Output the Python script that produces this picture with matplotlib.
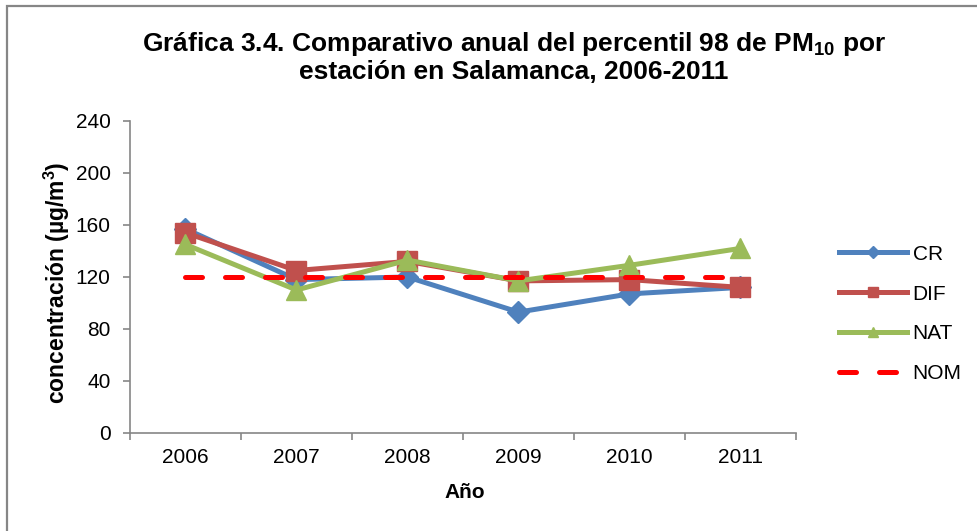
import matplotlib
matplotlib.use("Agg")
import matplotlib.pyplot as plt
from matplotlib.lines import Line2D
from matplotlib.patches import Rectangle

plt.rcParams['font.family'] = ['Liberation Sans', 'DejaVu Sans']
plt.rcParams['mathtext.fontset'] = 'custom'
plt.rcParams['mathtext.rm'] = 'Liberation Sans'
plt.rcParams['mathtext.bf'] = 'Liberation Sans:bold'
plt.rcParams['mathtext.default'] = 'bf'

years = ["2006", "2007", "2008", "2009", "2010", "2011"]
cr = [157, 118, 120, 93, 107, 112]
dif = [154, 125, 132, 117, 118, 112]
nat = [145, 110, 133, 117, 129, 142]
nom = [120, 120, 120, 120, 120, 120]

W, H = 978, 531
fig = plt.figure(figsize=(W / 100, H / 100), dpi=100)
ax = fig.add_axes([130 / W, 1 - 433 / H, (796 - 130) / W, (433 - 121) / H])

dash = (0, (3.4, 4.6))
x = list(range(len(years)))
ax.plot(x, cr, color='#4F81BD', lw=3.6, marker='D', ms=11, label='CR', zorder=3)
ax.plot(x, dif, color='#C0504D', lw=3.6, marker='s', ms=14, label='DIF', zorder=3)
ax.plot(x, nat, color='#9BBB59', lw=3.6, marker='^', ms=15, label='NAT', zorder=4)
ax.plot(x, nom, color='#FF0000', lw=3.6, ls=dash, dash_capstyle='round', label='NOM', zorder=5)

ax.set_xlim(-0.5, 5.5)
ax.set_ylim(0, 240)
ax.set_yticks(range(0, 241, 40))
ax.set_xticks(x)
ax.set_xticklabels(years)
ax.set_xticks([i - 0.5 for i in range(7)], minor=True)
ax.tick_params(axis='x', which='major', length=0, pad=11, labelsize=15)
ax.tick_params(axis='x', which='minor', length=5, color='#868686', width=1.2)
ax.tick_params(axis='y', length=5, color='#868686', width=1.2, labelsize=15, pad=9)
for s in ['top', 'right']:
    ax.spines[s].set_visible(False)
for s in ['left', 'bottom']:
    ax.spines[s].set_color('#868686')
    ax.spines[s].set_linewidth(1.2)

fig.text(465 / W, 1 - 492 / H, 'Año', ha='center', va='center', fontsize=15, fontweight='bold')
fig.text(57 / W, 1 - 283 / H, 'concentración (µg/m$^{3}$)', ha='center', va='center',
         rotation=90, fontsize=16.5, fontweight='bold')

fig.text(514 / W, 1 - 57 / H,
         'Gráfica 3.4. Comparativo anual del percentil 98 de PM$_{10}$ por\nestación en Salamanca, 2006-2011',
         ha='center', va='center', fontsize=19, fontweight='bold', linespacing=1.15)

handles = [
    Line2D([], [], color='#4F81BD', lw=3.6, marker='D', ms=6),
    Line2D([], [], color='#C0504D', lw=3.6, marker='s', ms=7),
    Line2D([], [], color='#9BBB59', lw=3.6, marker='^', ms=7),
    Line2D([], [], color='#FF0000', lw=3.6, ls=dash, dash_capstyle='round'),
]
fig.legend(handles, ['CR', 'DIF', 'NAT', 'NOM'], loc='center left',
           bbox_to_anchor=(820 / W, 1 - 314 / H), frameon=False, fontsize=15,
           handlelength=3.3, labelspacing=1.0, handletextpad=0.25)

fig.patches.append(Rectangle((7 / W, -0.1), 1.2, 1 - 6 / H + 0.1, transform=fig.transFigure,
                             fill=False, edgecolor='#868686', lw=1.6, clip_on=True))

fig.savefig('out.png', dpi=100)
